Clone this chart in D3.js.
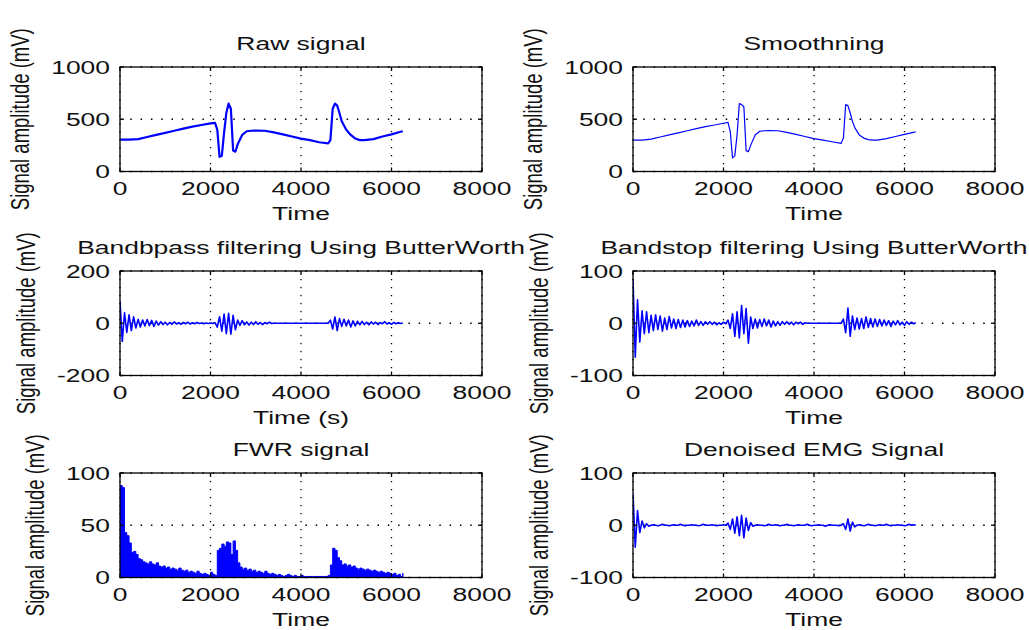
<!DOCTYPE html>
<html>
<head>
<meta charset="utf-8">
<title>EMG signal processing</title>
<style>
body { margin: 0; background: #fff; }
svg { display: block; background: #fff; }
</style>
</head>
<body>
<div id="chart"></div>
<script src="https://d3js.org/d3.v7.min.js"></script>
<script>
// ---- data ----
var timeTicks = [0, 2000, 4000, 6000, 8000];
var rawTicks = [0, 500, 1000];
var bandpassTicks = [-200, 0, 200];
var bandstopTicks = [-100, 0, 100];
var fwrTicks = [0, 50, 100];
var denoisedTicks = [-100, 0, 100];

// raw / smoothed signal, sampled at irregular times
var sigTime = [0, 200, 400, 600, 800, 1000, 1200, 1400, 1600, 1800, 2000, 2100, 2150, 2200, 2250, 2300, 2350, 2400, 2450,
  2500, 2550, 2600, 2700, 2800, 2900, 3000, 3200, 3400, 3600, 3800, 4000, 4200, 4400, 4600, 4650, 4700, 4750, 4800,
  4850, 4900, 5000, 5100, 5200, 5300, 5400, 5600, 5800, 6000, 6200, 6250];
var rawSignal = [305, 305, 310, 330, 350, 370, 390, 410, 430, 445, 460, 465, 400, 140, 150, 370, 560, 650, 600,
  200, 190, 260, 350, 385, 390, 392, 390, 375, 355, 335, 315, 300, 280, 270, 300, 600, 650, 630,
  560, 480, 400, 350, 315, 300, 300, 310, 335, 355, 380, 385];
var smoothSignal = [300, 300, 310, 330, 350, 370, 390, 410, 430, 445, 462, 470, 380, 130, 150, 350, 650, 640, 620,
  200, 190, 250, 350, 385, 390, 392, 390, 375, 355, 335, 315, 300, 285, 270, 320, 640, 630, 560,
  480, 420, 350, 320, 305, 300, 300, 315, 335, 355, 375, 380];

// EMG traces sampled every 50 time units (0 .. 6250)
var sampleStep = 50;
var bandpass = [85, -70, 40, -35, 32, -28, 25, -18, 15, -14, 12, -10, 14, -9, 11, -12, 8, -7, 6, -5,
  4, -6, 3, -4, 5, -3, 2, -4, 3, -2, 4, -3, 2, -2, 3, -1, 1, -2, 1, -1,
  1, -1, 2, -15, 25, -30, 35, -40, 38, -42, 30, -25, 12, -8, 10, -6, 5, -7, 4, -5,
  6, -4, 3, -5, 3, -2, 4, -1, 0, 0, 0, 0, 0, 0, 0, 0, 0, 0, 0, 0,
  0, 0, 0, 0, 0, 0, 0, 0, 0, 0, 0, 0, 0, 12, -22, 24, -28, 18, -12, 15,
  -10, 12, -14, 9, -10, 8, -6, 7, -5, 4, -6, 5, -3, 4, -5, 3, -2, 6, -3, 2,
  -4, 3, -2, 2, -1, 1];
var bandstop = [85, -65, 45, -36, 24, -20, 22, -18, 15, -14, 16, -12, 14, -15, 10, -12, 13, -9, 8, -10,
  7, -8, 6, -7, 5, -6, 4, -5, 6, -4, 3, -4, 3, -2, 3, -2, 2, -3, 1, -2,
  2, -1, 6, -10, 18, -25, 22, -28, 34, -20, 28, -38, 12, -10, 8, -9, 7, -6, 8, -5,
  6, -7, 4, -5, 3, -4, 3, -2, 3, -2, 2, -3, 2, -1, 2, -2, 1, 0, 0, 0,
  0, 0, 0, 0, 0, 0, 0, 0, 0, 0, 0, 0, 0, 8, -18, 29, -25, 14, -12, 10,
  -11, 9, -10, 12, -8, 9, -7, 8, -6, 7, -5, 6, -4, 5, -6, 4, -3, 5, -3, 2,
  -4, 3, -2, 2, -1, 1];
var fwr = [88, 86, 43, 40, 33, 24, 25, 22, 18, 17, 15, 14, 13, 15, 13, 12, 14, 11, 10, 11,
  9, 10, 8, 9, 8, 7, 9, 7, 6, 7, 5, 6, 5, 4, 6, 4, 3, 4, 3, 2,
  5, 3, 2, 26, 28, 32, 30, 34, 33, 22, 35, 26, 14, 10, 8, 9, 7, 8, 6, 7,
  5, 6, 5, 4, 6, 4, 3, 4, 3, 2, 3, 2, 1, 2, 3, 2, 1, 2, 1, 1,
  2, 1, 1, 1, 1, 1, 1, 1, 1, 1, 1, 1, 2, 12, 28, 26, 19, 16, 12, 13,
  11, 12, 10, 11, 9, 8, 9, 8, 7, 8, 7, 6, 7, 6, 5, 6, 5, 4, 5, 4,
  3, 4, 2, 3, 1, 4];
var denoised = [60, -42, 28, -14, 8, -5, 3, -2, 0, 1, 0, -1, 0, 2, 0, 0, -1, 0, 1, 0,
  0, 2, 0, -1, 0, 0, 1, 0, 0, -1, 0, 2, 0, 0, 0, 1, 0, -1, 0, 0,
  1, 0, 4, -8, 12, -15, 16, -20, 19, -24, 14, -10, 5, -2, 0, 1, 0, 0, -1, 0,
  2, 0, 0, 1, 0, -1, 0, 0, 2, 0, 0, -1, 0, 1, 0, 0, 0, 2, 0, -1,
  0, 0, 1, 0, 0, -2, 0, 1, 0, 0, 0, -1, 0, 3, -8, 12, -11, 6, -3, 0,
  1, 0, -1, 0, 2, 0, 0, -1, 0, 1, 0, 0, 2, 0, -1, 0, 0, 1, 0, 0,
  -1, 0, 2, 0, 1, 0];

// ---- layout ----
var width = 1029, height = 630;
var stretch = 1.43;          // the source raster is stretched horizontally
var fontSize = 18.5;
var font = "'Liberation Sans', Arial, Helvetica, sans-serif";
var colLeft = [120, 633], plotW = 362;
var rowTop = [67, 271, 473], plotH = 104.5;

function evenTimes(values) {
  return values.map(function(v, i) { return i * sampleStep; });
}

var panels = [
  {row: 0, col: 0, title: "Raw signal", xlabel: "Time", ticks: rawTicks, t: sigTime, v: rawSignal, kind: "line", lw: 2.2},
  {row: 0, col: 1, title: "Smoothning", xlabel: "Time", ticks: rawTicks, t: sigTime, v: smoothSignal, kind: "line", lw: 1.2},
  {row: 1, col: 0, title: "Bandbpass filtering Using ButterWorth", xlabel: "Time (s)", ticks: bandpassTicks, t: evenTimes(bandpass), v: bandpass, kind: "line", lw: 1.6},
  {row: 1, col: 1, title: "Bandstop filtering Using ButterWorth", xlabel: "Time", ticks: bandstopTicks, t: evenTimes(bandstop), v: bandstop, kind: "line", lw: 1.6},
  {row: 2, col: 0, title: "FWR signal", xlabel: "Time", ticks: fwrTicks, t: evenTimes(fwr), v: fwr, kind: "area", lw: 1},
  {row: 2, col: 1, title: "Denoised EMG Signal", xlabel: "Time", ticks: denoisedTicks, t: evenTimes(denoised), v: denoised, kind: "line", lw: 1.6}
];

var svg = d3.select("#chart").append("svg")
  .attr("width", width)
  .attr("height", height);

function addText(g, x, y, str, anchor, rotate) {
  return g.append("text")
    .attr("transform", "translate(" + x + "," + y + ") scale(" + stretch + ",1)" + (rotate ? " rotate(-90)" : ""))
    .attr("text-anchor", anchor)
    .style("font-family", font)
    .style("font-size", fontSize + "px")
    .style("fill", "#111")
    .text(str);
}

panels.forEach(function(p, k) {
  var left = colLeft[p.col], top = rowTop[p.row];
  var g = svg.append("g").attr("transform", "translate(" + left + "," + top + ")");

  var x = d3.scaleLinear().domain([timeTicks[0], timeTicks[timeTicks.length - 1]]).range([0, plotW]);
  var y = d3.scaleLinear().domain([p.ticks[0], p.ticks[p.ticks.length - 1]]).range([plotH, 0]);

  g.append("clipPath").attr("id", "clip" + k)
    .append("rect").attr("width", plotW).attr("height", plotH);

  // dotted grid
  g.selectAll(".vgrid").data(timeTicks).enter().append("line")
    .attr("x1", function(d) { return x(d); }).attr("x2", function(d) { return x(d); })
    .attr("y1", 0).attr("y2", plotH)
    .style("stroke", "#000").style("stroke-width", 1.3).style("stroke-dasharray", "1.3,6.7");
  g.selectAll(".hgrid").data(p.ticks).enter().append("line")
    .attr("y1", function(d) { return y(d); }).attr("y2", function(d) { return y(d); })
    .attr("x1", 0).attr("x2", plotW)
    .style("stroke", "#000").style("stroke-width", 1.3).style("stroke-dasharray", "1.5,8.8");

  // data
  var pts = p.t.map(function(t, i) { return [t, p.v[i]]; });
  var dg = g.append("g").attr("clip-path", "url(#clip" + k + ")");
  if (p.kind === "area") {
    var area = d3.area().curve(d3.curveStepAfter)
      .x(function(d) { return x(d[0]); })
      .y0(y(0)).y1(function(d) { return y(d[1]); });
    dg.append("path").datum(pts).attr("d", area)
      .style("fill", "#0000ff").style("stroke", "#0000ff").style("stroke-width", p.lw);
  } else {
    var line = d3.line()
      .x(function(d) { return x(d[0]); })
      .y(function(d) { return y(d[1]); });
    dg.append("path").datum(pts).attr("d", line)
      .style("fill", "none").style("stroke", "#0000ff").style("stroke-width", p.lw)
      .style("stroke-linejoin", "round");
  }

  // box and inward ticks
  g.append("rect").attr("width", plotW).attr("height", plotH)
    .style("fill", "none").style("stroke", "#000").style("stroke-width", 1.3);
  var tl = 4;
  timeTicks.forEach(function(d) {
    g.append("line").attr("x1", x(d)).attr("x2", x(d)).attr("y1", plotH).attr("y2", plotH - tl).style("stroke", "#000").style("stroke-width", 1.3);
    g.append("line").attr("x1", x(d)).attr("x2", x(d)).attr("y1", 0).attr("y2", tl).style("stroke", "#000").style("stroke-width", 1.3);
  });
  p.ticks.forEach(function(d) {
    g.append("line").attr("y1", y(d)).attr("y2", y(d)).attr("x1", 0).attr("x2", tl).style("stroke", "#000").style("stroke-width", 1.3);
    g.append("line").attr("y1", y(d)).attr("y2", y(d)).attr("x1", plotW).attr("x2", plotW - tl).style("stroke", "#000").style("stroke-width", 1.3);
  });

  // tick labels
  timeTicks.forEach(function(d) {
    addText(g, x(d), plotH + 23, d3.format("d")(d), "middle");
  });
  var maxW = 0;
  p.ticks.forEach(function(d) {
    var t = addText(g, -10, y(d), String(d), "end").attr("dy", "0.36em");
    maxW = Math.max(maxW, t.node().getBBox().width * stretch);
  });

  // titles and axis labels
  addText(g, plotW / 2, -17, p.title, "middle");
  addText(g, plotW / 2, plotH + 48, p.xlabel, "middle");
  addText(g, -10 - maxW - 22, plotH / 2, "Signal amplitude (mV)", "middle", true);
});
</script>
</body>
</html>
